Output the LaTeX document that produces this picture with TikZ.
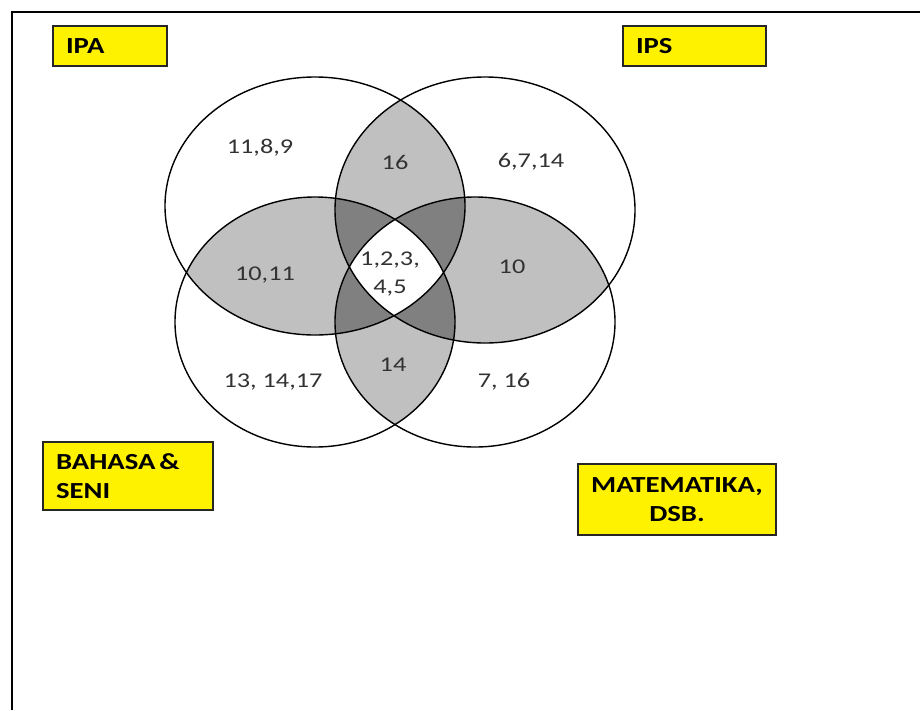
\documentclass[tikz,border=0pt]{standalone}
\usepackage{fontspec}
\usepackage{xcolor}
\usepackage{tikz}
\newfontfamily\boxfont{Carlito}[FakeStretch=1.25]
\newfontfamily\numfont{Carlito}[FakeStretch=1.25]
\definecolor{pairgray}{RGB}{192,192,192}
\definecolor{trigray}{RGB}{128,128,128}
\definecolor{numgray}{RGB}{50,50,50}
\def\ellIPA{(315,206) ellipse [x radius=150,y radius=129]}
\def\ellIPS{(485,210) ellipse [x radius=150,y radius=133]}
\def\ellBHS{(315,322) ellipse [x radius=140,y radius=125]}
\def\ellMTK{(475,322) ellipse [x radius=140,y radius=125]}

\begin{document}
\begin{tikzpicture}[x=1pt,y=-1pt,
    subjbox/.style={draw=black!85,fill=yellow,line width=1.5pt,inner xsep=13pt,inner ysep=0pt,
        font={\boxfont\bfseries\fontsize{23}{29}\selectfont}},
    numlabel/.style={text=numgray,align=center,font={\numfont\fontsize{21}{28}\selectfont}}]
            \useasboundingbox (0,0) rectangle (920,710);
            % frame
            \draw[line width=1.5pt] (12,710) -- (12,12) -- (920,12);
            % in two sets
            \begin{scope}\clip \ellIPA; \fill[pairgray] \ellIPS; \fill[pairgray] \ellBHS; \fill[pairgray] \ellMTK; \end{scope}
            \begin{scope}\clip \ellIPS; \fill[pairgray] \ellBHS; \fill[pairgray] \ellMTK; \end{scope}
            \begin{scope}\clip \ellBHS; \fill[pairgray] \ellMTK; \end{scope}
            % in three sets
            \begin{scope}\clip \ellIPA; \clip \ellIPS; \fill[trigray] \ellBHS; \fill[trigray] \ellMTK; \end{scope}
            \begin{scope}\clip \ellBHS; \clip \ellMTK; \fill[trigray] \ellIPA; \fill[trigray] \ellIPS; \end{scope}
            % in all four
            \begin{scope}\clip \ellIPA; \clip \ellIPS; \clip \ellBHS; \fill[white] \ellMTK; \end{scope}
            \draw[line width=1.4pt] \ellIPA;
            \draw[line width=1.4pt] \ellIPS;
            \draw[line width=1.4pt] \ellBHS;
            \draw[line width=1.4pt] \ellMTK;
            % labels
            \node[subjbox,text width=88pt,align=left,minimum height=40pt] (ipa) at (110,46) {IPA};
            \node[subjbox,text width=117pt,align=left,minimum height=40pt] (ips) at (694.5,46) {IPS};
            \node[subjbox,text width=144pt,align=left,minimum height=68pt] (bhs) at (128,476) {BAHASA\,\&\\SENI};
            \node[subjbox,text width=172pt,align=center,minimum height=71pt] (mtk) at (677,499.5) {MATEMATIKA,\\DSB.};
            \node[numlabel] (n-ipa) at (260,148) {11,8,9};
            \node[numlabel] (n-ipa-ips) at (395,162) {16};
            \node[numlabel] (n-ips) at (531,162) {6,7,14};
            \node[numlabel] (n-ipa-bhs) at (265,275) {10,11};
            \node[numlabel] (n-all) at (390,274) {1,2,3,\\4,5};
            \node[numlabel] (n-ips-mtk) at (512,267) {10};
            \node[numlabel] (n-bhs) at (273,382) {13, 14,17};
            \node[numlabel] (n-bhs-mtk) at (393,365) {14};
            \node[numlabel] (n-mtk) at (504,382) {7, 16};
\end{tikzpicture}
\end{document}
